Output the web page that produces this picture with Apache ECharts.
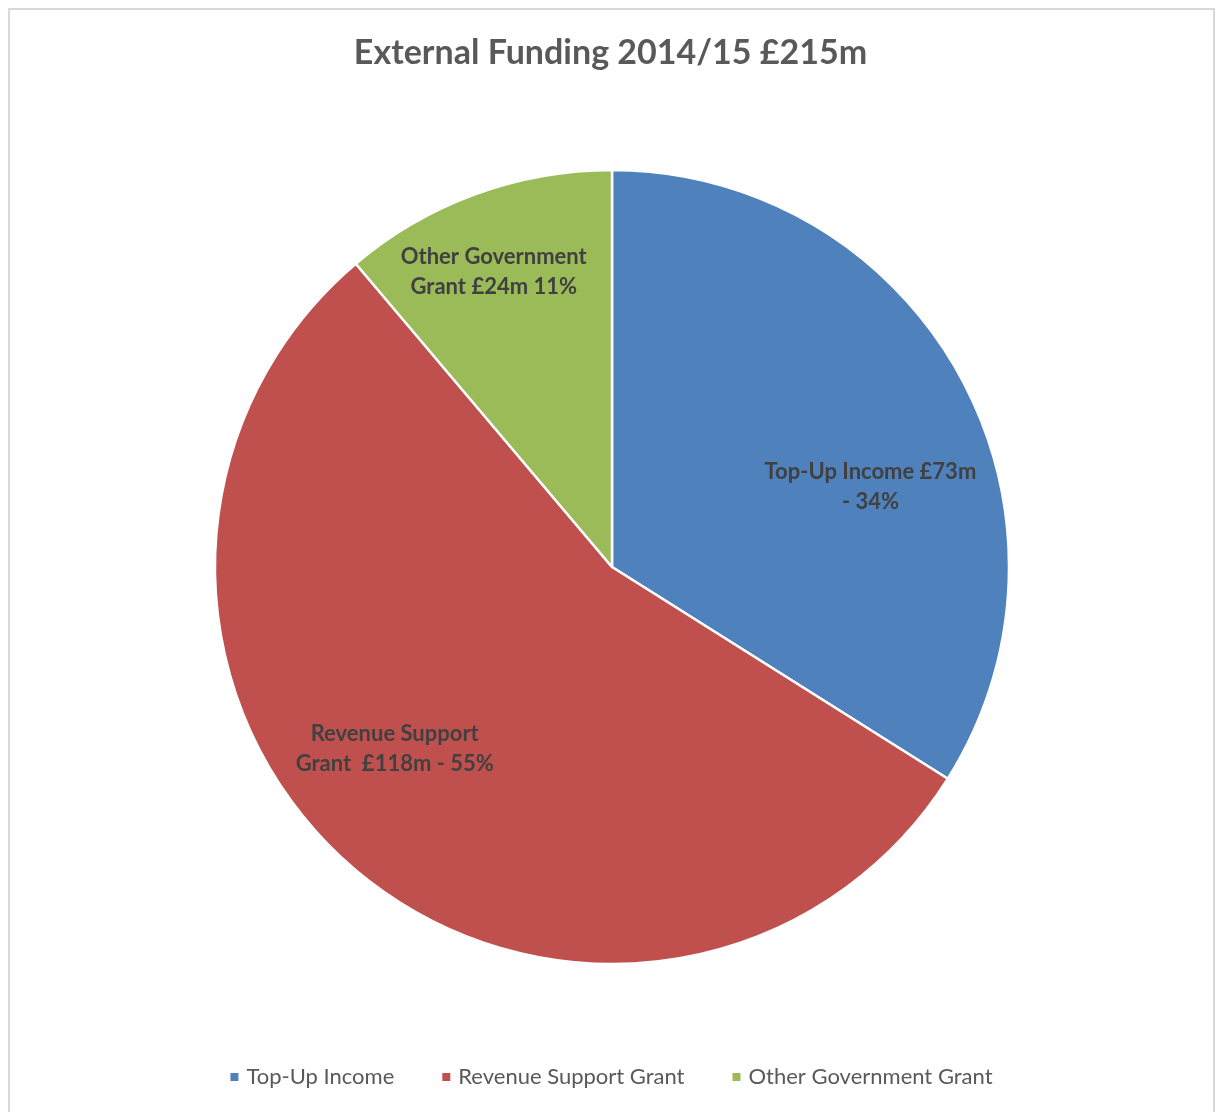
<!DOCTYPE html>
<html>
<head>
<meta charset="utf-8">
<script src="https://cdn.jsdelivr.net/npm/echarts@6/dist/echarts.min.js"></script>
<style>
  html, body { margin: 0; padding: 0; background: #fff; }
  #chart { width: 1221px; height: 1112px; }
</style>
</head>
<body>
<div id="chart"></div>
<script>
// External funding breakdown, £m
const categories = ['Top-Up Income', 'Revenue Support Grant', 'Other Government Grant'];
const values = [73, 118, 24];
const sliceLabels = [
  'Top-Up Income £73m\n- 34%',
  'Revenue Support\nGrant  £118m - 55%',
  'Other Government\nGrant £24m 11%'
];
const colors = ['#4F81BD', '#C0504D', '#9BBB59'];
const titleText = 'External Funding 2014/15 £215m';

// label nudges from the slice's default inside position
const labelOffsets = [[82, 17], [-85, 30], [-49, -106]];

const chart = echarts.init(document.getElementById('chart'));

const data = categories.map((name, i) => ({
  name: name,
  value: values[i],
  itemStyle: { color: colors[i] },
  label: { formatter: sliceLabels[i], offset: labelOffsets[i] }
}));

chart.setOption({
  animation: false,
  backgroundColor: '#ffffff',
  graphic: [{
    type: 'rect',
    shape: { x: 9, y: 9, width: 1205, height: 1130 },
    style: { fill: 'none', stroke: '#d9d9d9', lineWidth: 2 },
    silent: true,
    z: -1
  }],
  title: {
    text: titleText,
    left: 'center',
    top: 31,
    textStyle: {
      fontFamily: 'Lato',
      fontWeight: 'bold',
      fontSize: 34,
      color: '#595959'
    }
  },
  legend: {
    bottom: 19,
    left: 'center',
    itemWidth: 10,
    itemHeight: 10,
    itemGap: 46,
    icon: 'rect',
    textStyle: {
      fontFamily: 'Lato',
      fontSize: 22,
      color: '#595959',
      padding: [0, 0, 0, 2]
    },
    data: categories
  },
  series: [{
    type: 'pie',
    center: [612, 567],
    radius: 397,
    startAngle: 90,
    clockwise: true,
    data: data,
    itemStyle: { borderColor: '#ffffff', borderWidth: 2.5 },
    label: {
      position: 'inside',
      fontFamily: 'Lato',
      fontWeight: 'bold',
      fontSize: 22,
      lineHeight: 30,
      color: '#404040',
      align: 'center'
    },
    labelLine: { show: false },
    emphasis: { disabled: true }
  }]
});
</script>
</body>
</html>
